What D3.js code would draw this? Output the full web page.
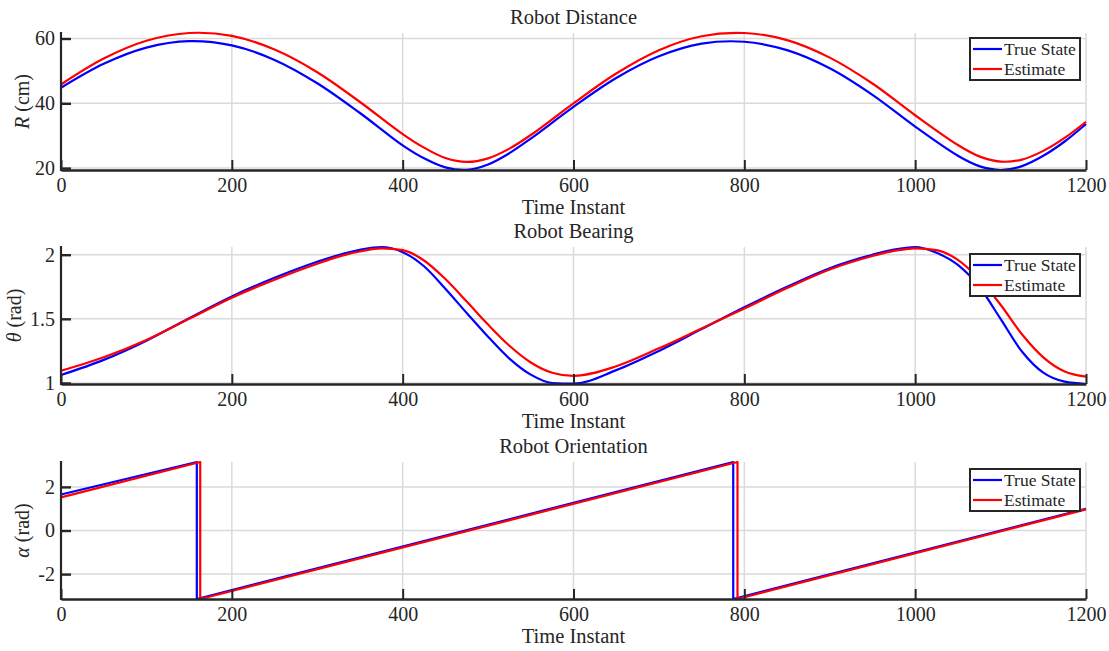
<!DOCTYPE html>
<html>
<head>
<meta charset="utf-8">
<script src="https://cdn.jsdelivr.net/npm/d3@7"></script>
<style>
  body { margin: 0; background: #fff; }
  svg text { font-family: "Liberation Serif", "Times New Roman", serif; fill: #262626; }
</style>
</head>
<body>
<svg width="1109" height="651"></svg>
<script>
// ---- data ----
var xTicks = [0, 200, 400, 600, 800, 1000, 1200];

// Robot Distance (cm)
var timeDist = [0, 50, 100, 150, 200, 250, 300, 350, 400, 425, 450, 475, 500, 525, 550, 600, 650, 700, 750, 800, 850, 900, 950, 1000, 1050, 1075, 1100, 1125, 1150, 1175, 1200];
var distTrue = [44.8, 52.2, 57.2, 59.2, 57.9, 53.4, 46.2, 37.0, 27.0, 23.0, 20.2, 19.45, 21.1, 24.6, 29.1, 38.9, 47.8, 54.5, 58.4, 59.0, 56.4, 50.8, 42.6, 32.8, 23.8, 20.6, 19.4, 20.6, 23.8, 28.2, 33.6];
var distEst = [45.8, 53.8, 59.3, 61.7, 60.8, 56.6, 49.6, 40.4, 30.5, 26.3, 23.1, 21.9, 23.0, 26.0, 30.2, 40.0, 49.2, 56.4, 60.7, 61.7, 59.5, 54.1, 46.1, 36.3, 27.1, 23.6, 22.0, 22.6, 25.3, 29.3, 34.3];
var distTicks = [20, 40, 60];

// Robot Bearing (rad)
var timeBear = [0, 50, 100, 150, 200, 250, 300, 325, 350, 375, 400, 425, 450, 475, 500, 525, 550, 575, 600, 650, 700, 750, 800, 850, 900, 950, 975, 1000, 1025, 1050, 1075, 1100, 1125, 1150, 1175, 1200];
var bearTrue = [1.062, 1.18, 1.33, 1.505, 1.675, 1.82, 1.945, 1.998, 2.038, 2.06, 2.02, 1.91, 1.735, 1.545, 1.36, 1.19, 1.065, 1.0, 0.995, 1.10, 1.25, 1.42, 1.59, 1.75, 1.895, 2.0, 2.04, 2.06, 2.015, 1.92, 1.75, 1.50, 1.245, 1.08, 1.01, 0.992];
var bearEst = [1.095, 1.20, 1.335, 1.50, 1.665, 1.805, 1.93, 1.985, 2.025, 2.05, 2.035, 1.955, 1.81, 1.635, 1.455, 1.29, 1.16, 1.08, 1.055, 1.13, 1.27, 1.425, 1.58, 1.74, 1.885, 1.99, 2.03, 2.05, 2.035, 1.96, 1.81, 1.61, 1.38, 1.20, 1.09, 1.05];
var bearTicks = [1, 1.5, 2];

// Robot Orientation (rad) - wraps at +/- pi
var timeOrientTrue = [0, 159, 159, 787, 787, 1200];
var orientTrue = [1.65, 3.1416, -3.1416, 3.1416, -3.1416, 1.0];
var timeOrientEst = [0, 163, 163, 792, 792, 1200];
var orientEst = [1.52, 3.1416, -3.1416, 3.1416, -3.1416, 0.97];
var orientTicks = [-2, 0, 2];

var legendNames = ["True State", "Estimate"];
var colors = ["#0000ff", "#ff0000"];

var svg = d3.select("svg");
var left = 61, right = 1086, plotH = 137;
var ink = "#262626";

var x = d3.scaleLinear().domain([0, 1200]).range([left, right]);

function zip(t, v) {
    return t.map(function (d, i) { return [d, v[i]]; });
}

function drawPanel(cfg) {
    var top = cfg.top, bottom = top + plotH;
    var y = d3.scaleLinear().domain(cfg.yDomain).range([bottom, top]);
    var g = svg.append("g");

    // grid
    g.append("g").selectAll("line").data(xTicks.slice(1)).enter().append("line")
        .attr("x1", function (d) { return x(d); }).attr("x2", function (d) { return x(d); })
        .attr("y1", top).attr("y2", bottom)
        .attr("stroke", "#dadada").attr("stroke-width", 1.5);
    g.append("g").selectAll("line").data(cfg.yTicks).enter().append("line")
        .attr("x1", left).attr("x2", right)
        .attr("y1", function (d) { return y(d); }).attr("y2", function (d) { return y(d); })
        .attr("stroke", "#dadada").attr("stroke-width", 1.5);

    // lines
    var line = d3.line()
        .x(function (d) { return x(d[0]); })
        .y(function (d) { return y(d[1]); })
        .curve(cfg.curve || d3.curveLinear);
    cfg.series.forEach(function (s, i) {
        g.append("path")
            .datum(s)
            .attr("fill", "none")
            .attr("stroke", colors[i])
            .attr("stroke-width", 2.2)
            .attr("stroke-linejoin", "round")
            .attr("d", line);
    });

    // axes (ticks pointing inward)
    var xAxis = g.append("g")
        .attr("transform", "translate(0," + bottom + ")")
        .call(d3.axisBottom(x).tickValues(xTicks).tickSize(-10).tickSizeOuter(0).tickPadding(8)
            .tickFormat(d3.format("d")));
    var yAxis = g.append("g")
        .attr("transform", "translate(" + left + ",0)")
        .call(d3.axisLeft(y).tickValues(cfg.yTicks).tickSize(-10).tickSizeOuter(0).tickPadding(6)
            .tickFormat(function (d) { return String(d); }));
    [xAxis, yAxis].forEach(function (a) {
        a.selectAll("path,line").attr("stroke", ink);
        a.selectAll("text").style("font-size", "20px").attr("fill", ink)
            .style("font-family", "'Liberation Serif', serif");
    });
    xAxis.select(".domain").attr("stroke-width", 2.6);
    xAxis.selectAll(".tick line").attr("stroke-width", 2);
    yAxis.select(".domain").attr("stroke-width", 2.2).attr("d", "M0," + (top - 1) + "V" + (bottom + 1));
    yAxis.selectAll(".tick line").attr("stroke-width", 2.4);

    // titles
    g.append("text").attr("x", (left + right) / 2).attr("y", top - 9)
        .attr("text-anchor", "middle").style("font-size", "20.5px").text(cfg.title);
    g.append("text").attr("x", (left + right) / 2).attr("y", bottom + 44)
        .attr("text-anchor", "middle").style("font-size", "20.5px").text("Time Instant");

    var yl = g.append("text")
        .attr("transform", "translate(" + cfg.ylabelX + "," + (top + bottom) / 2 + ") rotate(-90)")
        .attr("text-anchor", "middle").style("font-size", "20px");
    yl.append("tspan").style("font-style", "italic").text(cfg.ylabelSym);
    yl.append("tspan").text(" " + cfg.ylabelUnit);

    // legend
    var lg = g.append("g").attr("transform", "translate(970," + (top + cfg.legendOff) + ")");
    lg.append("rect").attr("width", 110).attr("height", 42)
        .attr("fill", "#fff").attr("stroke", ink).attr("stroke-width", 2);
    legendNames.forEach(function (n, i) {
        var yy = 11 + i * 20;
        lg.append("line").attr("x1", 3).attr("x2", 32).attr("y1", yy).attr("y2", yy)
            .attr("stroke", colors[i]).attr("stroke-width", 2.2);
        lg.append("text").attr("x", 34).attr("y", yy).attr("dy", "0.33em")
            .style("font-size", "17.5px").text(n);
    });
}

var distAll = distTrue.concat(distEst);
drawPanel({
    top: 33, title: "Robot Distance",
    yDomain: d3.extent(distAll), yTicks: distTicks,
    series: [zip(timeDist, distTrue), zip(timeDist, distEst)],
    curve: d3.curveCatmullRom,
    ylabelSym: "R", ylabelUnit: "(cm)", ylabelX: 29, legendOff: 5
});

var bearAll = bearTrue.concat(bearEst);
drawPanel({
    top: 247, title: "Robot Bearing",
    yDomain: d3.extent(bearAll), yTicks: bearTicks,
    series: [zip(timeBear, bearTrue), zip(timeBear, bearEst)],
    curve: d3.curveMonotoneX,
    ylabelSym: "θ", ylabelUnit: "(rad)", ylabelX: 21, legendOff: 7
});

drawPanel({
    top: 462, title: "Robot Orientation",
    yDomain: [-Math.PI, Math.PI], yTicks: orientTicks,
    series: [zip(timeOrientTrue, orientTrue), zip(timeOrientEst, orientEst)],
    ylabelSym: "α", ylabelUnit: "(rad)", ylabelX: 29, legendOff: 7
});
</script>
</body>
</html>
